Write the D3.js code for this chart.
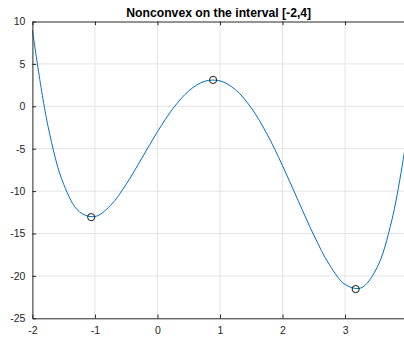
<!DOCTYPE html>
<html>
<head>
<meta charset="utf-8">
<script src="https://d3js.org/d3.v7.min.js"></script>
<style>
  body { margin: 0; background: #fff; }
  svg { display: block; font-family: "Liberation Sans", Arial, Helvetica, sans-serif; }
</style>
</head>
<body>
<svg></svg>
<script>

    var width = 404;
    var height = 339;

    // curve samples
    var xs = [-2, -1.75, -1.5, -1.25, -1, -0.75, -0.5, -0.25, 0, 0.25, 0.5, 0.75, 1,
              1.25, 1.5, 1.75, 2, 2.25, 2.5, 2.75, 3, 3.25, 3.5, 3.75, 4];
    var ys = [9, -2.37, -9.19, -12.43, -13, -11.68, -9.19, -6.12, -3, -0.25, 1.81, 2.94, 3,
              1.94, -0.19, -3.25, -7, -11.12, -15.19, -18.68, -21, -21.43, -19.19, -13.37, -3];

    // stationary points (circles)
    var markX = [-1.06, 0.89, 3.17];
    var markY = [-13.07, 3.11, -21.55];

    var xTicks = [-2, -1, 0, 1, 2, 3];
    var yTicks = [-25, -20, -15, -10, -5, 0, 5, 10];
    var title = "Nonconvex on the interval [-2,4]";

    var x = d3.scaleLinear().domain([-2, 4]).range([32.4, 407.6]);
    var y = d3.scaleLinear().domain([-25, 10]).range([318.3, 21.5]);

    var svg = d3.select("svg")
        .attr("width", width)
        .attr("height", height)
        .attr("viewBox", [0, 0, width, height]);

    var axisColor = "#262626";

    // grid
    svg.append("g")
        .selectAll("line")
        .data(xTicks.slice(1))
        .join("line")
        .attr("x1", d => x(d)).attr("x2", d => x(d))
        .attr("y1", y(-25)).attr("y2", y(10))
        .attr("stroke", "#e3e3e3").attr("stroke-width", 1);

    svg.append("g")
        .selectAll("line")
        .data(yTicks.slice(1, -1))
        .join("line")
        .attr("x1", x(-2)).attr("x2", x(4))
        .attr("y1", d => y(d)).attr("y2", d => y(d))
        .attr("stroke", "#e3e3e3").attr("stroke-width", 1);

    // data line
    var pts = xs.map((v, i) => [v, ys[i]]);
    var line = d3.line()
        .x(d => x(d[0]))
        .y(d => y(d[1]))
        .curve(d3.curveCatmullRom.alpha(0.5));

    svg.append("path")
        .datum(pts)
        .attr("d", line)
        .attr("fill", "none")
        .attr("stroke", "#0072BD")
        .attr("stroke-width", 1);

    svg.append("g")
        .selectAll("circle")
        .data(markX.map((v, i) => [v, markY[i]]))
        .join("circle")
        .attr("cx", d => x(d[0]))
        .attr("cy", d => y(d[1]))
        .attr("r", 3.6)
        .attr("fill", "none")
        .attr("stroke", "#1a1a1a")
        .attr("stroke-width", 1);

    // axes
    var fmt = d => String(d);

    var xAxisB = svg.append("g")
        .attr("transform", `translate(0,${y(-25)})`)
        .call(d3.axisBottom(x).tickValues(xTicks).tickSizeInner(-3.7).tickSizeOuter(0).tickPadding(8).tickFormat(fmt));

    var xAxisT = svg.append("g")
        .attr("transform", `translate(0,${y(10)})`)
        .call(d3.axisTop(x).tickValues(xTicks).tickSizeInner(-3.7).tickSizeOuter(0).tickFormat(""));

    var yAxisL = svg.append("g")
        .attr("transform", `translate(${x(-2)},0)`)
        .call(d3.axisLeft(y).tickValues(yTicks).tickSizeInner(-3.7).tickSizeOuter(0).tickPadding(7).tickFormat(fmt));

    [xAxisB, xAxisT, yAxisL].forEach(function(g) {
        g.select(".domain").attr("stroke", axisColor).attr("stroke-width", 1);
        g.selectAll(".tick line").attr("stroke", axisColor);
        g.selectAll(".tick text")
            .attr("fill", axisColor)
            .attr("font-size", 10.5)
            .attr("font-family", "'Liberation Sans', Arial, sans-serif");
    });

    svg.append("text")
        .attr("x", 218.7)
        .attr("y", 16.5)
        .attr("text-anchor", "middle")
        .attr("font-size", 12.2)
        .attr("font-weight", "bold")
        .attr("fill", "#000")
        .text(title);

</script>
</body>
</html>
